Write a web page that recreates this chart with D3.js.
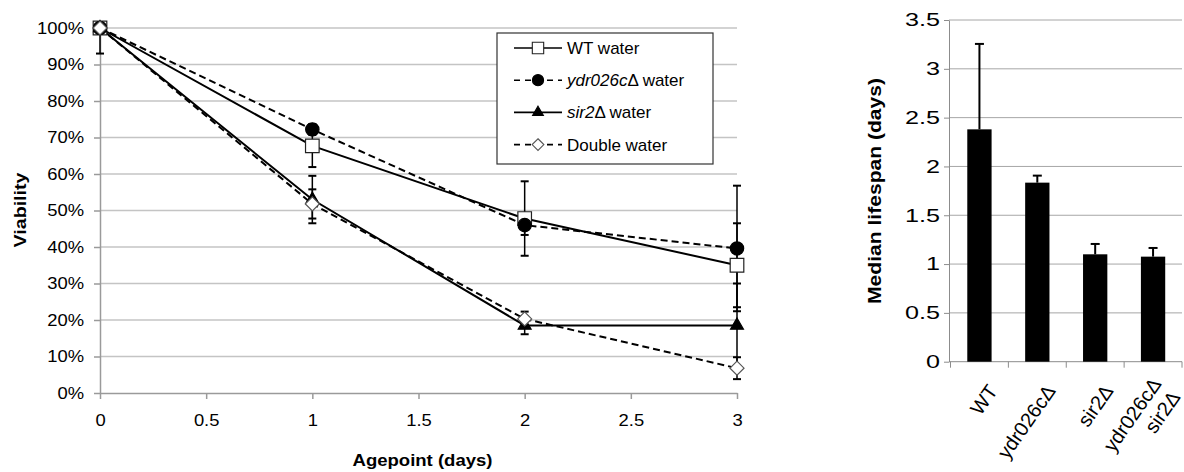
<!DOCTYPE html>
<html>
<head>
<meta charset="utf-8">
<script src="https://cdn.jsdelivr.net/npm/d3@7"></script>
<style>
  body { margin: 0; background: #fff; }
  svg { font-family: "Liberation Sans", Arial, sans-serif; }
</style>
</head>
<body>
<svg id="chart" width="1184" height="472"></svg>
<script>
// ---- viability time course (left) ----
const agepoints = [0, 1, 2, 3];
const wtWater = [100, 67.7, 47.8, 35];
const wtErr = [7, 5.8, 10.2, 11.5];
const ydrWater = [100, 72.2, 46, 39.6];
const ydrErr = [1.6, 1.5, 2.7, 17.2];
const sir2Water = [100, 53, 18.5, 18.5];
const sir2Err = [0, 6.5, 2.4, 11.5];
const doubleWater = [100, 51.8, 20.3, 6.8];
const doubleErr = [0, 4, 2, 3];
const xTicks = [0, 0.5, 1, 1.5, 2, 2.5, 3];
const yTicks = [0, 10, 20, 30, 40, 50, 60, 70, 80, 90, 100];

// legend labels, italic parts flagged
const legendLabels = [
  [["WT", false], [" water", false]],
  [["ydr026c", true], ["\u0394 water", false]],
  [["sir2", true], ["\u0394 water", false]],
  [["Double water", false]]
];

// ---- median lifespan (right) ----
const strains = [["WT"], ["ydr026c\u0394"], ["sir2\u0394"], ["ydr026c\u0394", "sir2\u0394"]];
const medianLifespan = [2.38, 1.834, 1.10, 1.076];
const lifespanErr = [0.875, 0.072, 0.106, 0.089];
const lifespanTicks = [0, 0.5, 1, 1.5, 2, 2.5, 3, 3.5];

const svg = d3.select("#chart");

// custom diamond (square turned 45deg)
const diamond = {
  draw(ctx, size) {
    const r = Math.sqrt(size / 2);
    ctx.moveTo(0, -r); ctx.lineTo(r, 0); ctx.lineTo(0, r); ctx.lineTo(-r, 0); ctx.closePath();
  }
};

const series = [
  { vals: wtWater, err: wtErr, dash: null, type: d3.symbolSquare, size: 185, fill: "#fff", stroke: "#222" },
  { vals: ydrWater, err: ydrErr, dash: "7,4", type: d3.symbolCircle, size: 140, fill: "#000", stroke: "#000" },
  { vals: sir2Water, err: sir2Err, dash: null, type: d3.symbolTriangle, size: 72, fill: "#000", stroke: "#000" },
  { vals: doubleWater, err: doubleErr, dash: "7,4", type: diamond, size: 98, fill: "#fff", stroke: "#555" }
];

// ===== left chart =====
const L = { left: 100, right: 737, top: 28, bottom: 393 };
const x = d3.scaleLinear().domain([0, 3]).range([L.left, L.right]);
const y = d3.scaleLinear().domain([0, 100]).range([L.bottom, L.top]);

const left = svg.append("g");

// gridlines
left.append("g").selectAll("line")
  .data(yTicks.filter(d => d > 0))
  .join("line")
  .attr("x1", L.left).attr("x2", L.right)
  .attr("y1", d => y(d)).attr("y2", d => y(d))
  .attr("stroke", "#c4c4c4").attr("stroke-width", 1.5);

// axes
const yAxisL = left.append("g")
  .attr("transform", `translate(${L.left},0)`)
  .call(d3.axisLeft(y).tickValues(yTicks).tickFormat(d => d + "%").tickSize(6).tickSizeOuter(0));
const xAxisL = left.append("g")
  .attr("transform", `translate(0,${L.bottom})`)
  .call(d3.axisBottom(x).tickValues(xTicks).tickFormat(d3.format("")).tickSize(6).tickSizeOuter(0));

[yAxisL, xAxisL].forEach(ax => {
  ax.select(".domain").attr("stroke", "#9a9a9a").attr("stroke-width", 1.5);
  ax.selectAll(".tick line").attr("stroke", "#9a9a9a").attr("stroke-width", 1.5);
  ax.selectAll("text").attr("fill", "#000").style("font-size", "16px");
});
yAxisL.selectAll("text").attr("x", -16 / 1.15).attr("transform", "scale(1.15,1)");
xAxisL.selectAll("text").attr("y", 22).attr("x", 0).attr("transform", "scale(1.15,1)");

// titles
left.append("text")
  .attr("transform", `translate(${(L.left + L.right) / 2 + 4},466)`)
  .attr("text-anchor", "middle").attr("font-weight", "bold").attr("font-size", 17)
  .attr("textLength", 140).attr("lengthAdjust", "spacingAndGlyphs")
  .text("Agepoint (days)");
left.append("text")
  .attr("transform", "translate(26,210) rotate(-90)")
  .attr("text-anchor", "middle").attr("font-weight", "bold").attr("font-size", 16)
  .attr("textLength", 75).attr("lengthAdjust", "spacingAndGlyphs")
  .text("Viability");

// series lines
const line = d3.line().x((d, i) => x(agepoints[i])).y(d => y(d));
left.append("g").selectAll("path")
  .data(series)
  .join("path")
  .attr("d", s => line(s.vals))
  .attr("fill", "none").attr("stroke", "#000").attr("stroke-width", 2)
  .attr("stroke-dasharray", s => s.dash);

// error bars (clipped at 100%)
svg.append("clipPath").attr("id", "plotClip")
  .append("rect").attr("x", L.left - 20).attr("y", L.top - 1)
  .attr("width", L.right - L.left + 40).attr("height", L.bottom - L.top + 20);
const errG = left.append("g").attr("clip-path", "url(#plotClip)");
series.forEach(s => {
  s.vals.forEach((v, i) => {
    if (!s.err[i]) return;
    const cx = x(agepoints[i]), y1 = y(v + s.err[i]), y2 = y(v - s.err[i]);
    errG.append("line").attr("x1", cx).attr("x2", cx).attr("y1", y1).attr("y2", y2)
      .attr("stroke", "#000").attr("stroke-width", 1.5);
    [y1, y2].forEach(yy => errG.append("line")
      .attr("x1", cx - 4).attr("x2", cx + 4).attr("y1", yy).attr("y2", yy)
      .attr("stroke", "#000").attr("stroke-width", 2));
  });
});

// markers
series.forEach(s => {
  left.append("g").selectAll("path")
    .data(s.vals)
    .join("path")
    .attr("transform", (d, i) => `translate(${x(agepoints[i])},${y(d)})`)
    .attr("d", d3.symbol().type(s.type).size(s.size))
    .attr("fill", s.fill).attr("stroke", s.stroke).attr("stroke-width", 1.2);
});

// legend
const leg = left.append("g").attr("transform", "translate(497,33)");
leg.append("rect").attr("width", 216).attr("height", 131)
  .attr("fill", "#fff").attr("stroke", "#333").attr("stroke-width", 1.2);
legendLabels.forEach((lab, i) => {
  const s = series[i];
  const gy = 15 + i * 32.2;
  const g = leg.append("g").attr("transform", `translate(0,${gy})`);
  g.append("line").attr("x1", 17).attr("x2", 65).attr("y1", 0).attr("y2", 0)
    .attr("stroke", "#000").attr("stroke-width", 1.6).attr("stroke-dasharray", s.dash ? "6,5" : null);
  g.append("path").attr("transform", "translate(41,0)")
    .attr("d", d3.symbol().type(s.type).size(s.size * 0.7))
    .attr("fill", s.fill).attr("stroke", s.stroke).attr("stroke-width", 1.1);
  const t = g.append("text").attr("x", 70).attr("y", 6).attr("font-size", 17);
  lab.forEach(p => t.append("tspan").attr("font-style", p[1] ? "italic" : null).text(p[0]));
});

// ===== right chart =====
const R = { left: 949, right: 1182, top: 20, bottom: 361.7 };
const xb = d3.scaleBand().domain(d3.range(strains.length)).range([R.left + 1.5, R.right]).paddingInner(0.58).paddingOuter(0.29);
const yb = d3.scaleLinear().domain([0, 3.5]).range([R.bottom, R.top]);
const right = svg.append("g");

right.append("g").selectAll("line")
  .data(lifespanTicks.filter(d => d > 0))
  .join("line")
  .attr("x1", R.left).attr("x2", R.right)
  .attr("y1", d => yb(d)).attr("y2", d => yb(d))
  .attr("stroke", "#a6a6a6").attr("stroke-width", 1);

const yAxisR = right.append("g")
  .attr("transform", `translate(${R.left},0)`)
  .call(d3.axisLeft(yb).tickValues(lifespanTicks).tickFormat(d3.format("")).tickSize(5).tickSizeOuter(0));
yAxisR.select(".domain").attr("stroke", "#8c8c8c");
yAxisR.selectAll(".tick line").attr("stroke", "#8c8c8c");
yAxisR.selectAll("text").attr("fill", "#000").style("font-size", "18px")
  .attr("x", -9 / 1.4).attr("transform", "scale(1.4,1)");

// category axis with ticks between bands
right.append("line").attr("x1", R.left).attr("x2", R.right).attr("y1", R.bottom).attr("y2", R.bottom)
  .attr("stroke", "#8c8c8c");
const step = (R.right - (R.left + 1.5)) / strains.length;
right.append("g").selectAll("line")
  .data(d3.range(strains.length + 1))
  .join("line")
  .attr("x1", i => R.left + 1.5 + i * step).attr("x2", i => R.left + 1.5 + i * step)
  .attr("y1", R.bottom).attr("y2", R.bottom + 6)
  .attr("stroke", "#8c8c8c");

// bars
right.append("g").selectAll("rect")
  .data(medianLifespan)
  .join("rect")
  .attr("x", (d, i) => xb(i)).attr("width", xb.bandwidth())
  .attr("y", d => yb(d)).attr("height", d => yb(0) - yb(d))
  .attr("fill", "#000");

// upper error bars
medianLifespan.forEach((v, i) => {
  const cx = xb(i) + xb.bandwidth() / 2;
  right.append("line").attr("x1", cx).attr("x2", cx).attr("y1", yb(v)).attr("y2", yb(v + lifespanErr[i]))
    .attr("stroke", "#000").attr("stroke-width", 2);
  right.append("line").attr("x1", cx - 4.5).attr("x2", cx + 4.5)
    .attr("y1", yb(v + lifespanErr[i])).attr("y2", yb(v + lifespanErr[i]))
    .attr("stroke", "#000").attr("stroke-width", 2);
});

// rotated category labels
strains.forEach((lines, i) => {
  const cx = xb(i) + xb.bandwidth() / 2;
  const t = right.append("text")
    .attr("transform", `translate(${cx + 19},391) rotate(-55)`)
    .attr("text-anchor", "end").attr("font-size", 20);
  lines.forEach((ln, j) => t.append("tspan").attr("x", 0)
    .attr("dy", j === 0 ? (-(lines.length - 1) * 0.6) + "em" : "1.15em").text(ln));
});

right.append("text")
  .attr("transform", "translate(881,191) rotate(-90)")
  .attr("text-anchor", "middle").attr("font-weight", "bold").attr("font-size", 18)
  .attr("textLength", 226).attr("lengthAdjust", "spacingAndGlyphs")
  .text("Median lifespan (days)");
</script>
</body>
</html>
